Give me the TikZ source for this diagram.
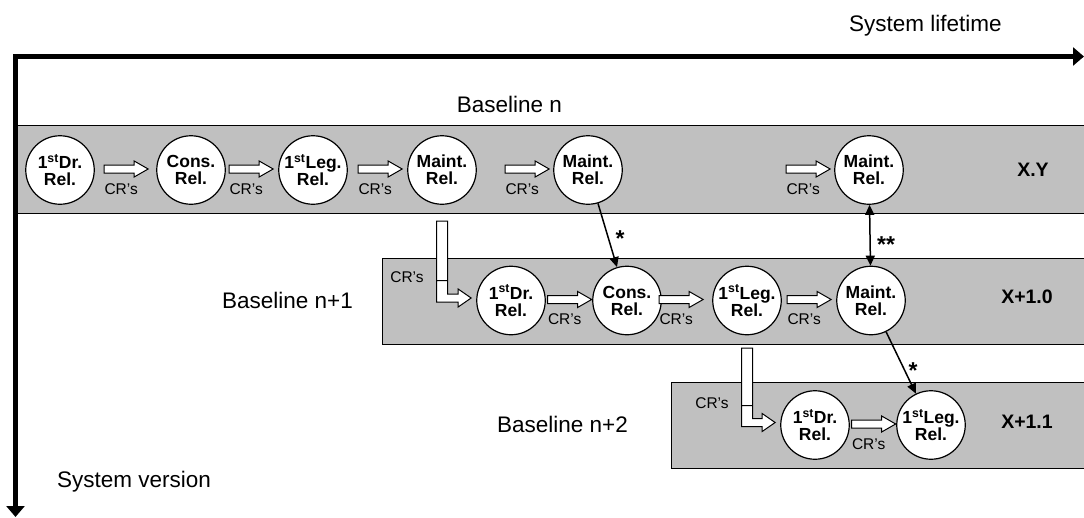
\documentclass[tikz,border=0pt]{standalone}
\usepackage{fontspec}
\setmainfont{Liberation Sans}
\usetikzlibrary{arrows.meta,calc}
\definecolor{bandgray}{RGB}{192,192,192}
\tikzset{
 band/.style={draw=black, line width=1.3pt, fill=bandgray, anchor=north west, inner sep=0pt},
 rel/.style={circle, draw=black, line width=1.2pt, fill=white, minimum size=68.5pt, inner sep=0pt, align=center, font=\fontsize{17.5}{17}\selectfont\bfseries},
 blk/.style={draw=black, line width=1pt, fill=white, line join=miter},
 crlabel/.style={font=\fontsize{15.5}{18}\selectfont, inner sep=0pt},
 biglabel/.style={font=\fontsize{22.5}{27}\selectfont, inner sep=0pt, anchor=base west},
 verlabel/.style={font=\fontsize{19.5}{22}\selectfont\bfseries, inner sep=0pt},
 link/.style={line width=1.5pt, -{Triangle[length=10pt,width=9pt]}},
 starlabel/.style={font=\fontsize{23}{27}\selectfont\bfseries, inner sep=0pt, anchor=base},
 axisline/.style={line width=5pt, line join=miter, {Triangle[length=11pt,width=18pt]}-{Triangle[length=11pt,width=18pt]}},
}
% straight block arrow ending just before a node
\newcommand{\crarrow}[2]{%
 \coordinate (tip) at ($(#1.west)+(-#2,-1)$);
 \draw[blk] (tip) -- ++(-14,-8) -- ++(0,4) -- ++(-30,0) -- ++(0,8) -- ++(30,0) -- ++(0,4) -- cycle;
 \node[crlabel] at ($(tip)+(-27,20)$) {CR’s};}
% bent block arrow from a node in one band to a node in the next
\newcommand{\crbend}[4]{%
 \coordinate (ltip) at ($(#3.west)+(-5,-2.5)$);
 \draw[blk] let \p1=(#1.center), \p2=(#2), \p3=(ltip) in
  ({\x1-5.5pt},\y2) -- ({\x1+5.5pt},\y2) -- ({\x1+5.5pt},{\y3+4pt}) -- ({\x3-13pt},{\y3+4pt})
  -- ({\x3-13pt},{\y3+9pt}) -- (\x3,\y3) -- ({\x3-13pt},{\y3-9pt}) -- ({\x3-13pt},{\y3-4pt})
  -- ({\x1-5.5pt},{\y3-4pt}) -- cycle
  ({\x1-5.5pt},{\y2-#4}) -- ({\x1+5.5pt},{\y2-#4});}
\begin{document}
\begin{tikzpicture}[x=1pt,y=-1pt]
\fill[white] (0,0) rectangle (1084,517);
\useasboundingbox (0,0) rectangle (1084,517);

% bands
\node[band, minimum width=1080pt, minimum height=87.7pt] (b1) at (15,125) {};
\node[band, minimum width=710pt, minimum height=86pt] (b2) at (382,257.5) {};
\node[band, minimum width=420pt, minimum height=86pt] (b3) at (670.7,381.7) {};

% axes
\coordinate (xend) at (1084,56.5);
\coordinate (orig) at (15.5,56.5);
\coordinate (yend) at (15.5,517);
\draw[axisline] (xend) -- (orig) -- (yend);

% labels
\node[biglabel] (lt) at (849,31.7) {System lifetime};
\node[biglabel] (sv) at (57,487) {System version};
\node[biglabel] (bn) at (456.7,112) {Baseline n};
\node[biglabel] (bn1) at (222,308) {Baseline n+1};
\node[biglabel] (bn2) at (497,432) {Baseline n+2};
\node[verlabel] (v1) at (1033,170) {X.Y};
\node[verlabel] (v2) at (1027,297) {X+1.0};
\node[verlabel] (v3) at (1027,421.7) {X+1.1};

% band 1
\node[rel] (a1) at (60,170) {1\textsuperscript{st}Dr.\\Rel.};
\node[rel] (a2) at (191,170) {Cons.\\Rel.};
\node[rel] (a3) at (313,170) {1\textsuperscript{st}Leg.\\Rel.};
\node[rel] (a4) at (442,170) {Maint.\\Rel.};
\node[rel] (a5) at (588,170) {Maint.\\Rel.};
\node[rel] (a6) at (869,170) {Maint.\\Rel.};
% band 2
\node[rel] (n1) at (511,300.5) {1\textsuperscript{st}Dr.\\Rel.};
\node[rel] (n2) at (627,300.5) {Cons.\\Rel.};
\node[rel] (n3) at (747,300.5) {1\textsuperscript{st}Leg.\\Rel.};
\node[rel] (n4) at (871,300.5) {Maint.\\Rel.};
% band 3
\node[rel] (m1) at (815,425) {1\textsuperscript{st}Dr.\\Rel.};
\node[rel] (m2) at (931,425) {1\textsuperscript{st}Leg.\\Rel.};

% CR block arrows
\crarrow{a2}{8}
\crarrow{a3}{5}
\crarrow{a4}{5}
\crarrow{a5}{4}
\crarrow{a6}{4}
\crarrow{n2}{0.5}
\crarrow{n3}{9}
\crarrow{n4}{5}
\crarrow{m2}{0.5}

% bent arrows
\crbend{a4}{$(b1.south -| a4)+(0,7)$}{n1}{59.6pt}
\node[crlabel] (cr1) at (407,277) {CR’s};
\crbend{n3}{$(b2.south -| n3)+(0,3.3)$}{m1}{57.5pt}
\node[crlabel] (cr2) at (712,403) {CR’s};

% merge arrows
\draw[link] (a5) -- (n2);
\node[starlabel] (s1) at (620,246.7) {*};
\draw[link, {Triangle[length=10pt,width=9pt]}-{Triangle[length=10pt,width=9pt]}] (a6) -- (n4);
\node[starlabel] (s2) at (886,252.7) {**};
\draw[link] (n4) -- (m2);
\node[starlabel] (s3) at (913,378) {*};
\end{tikzpicture}
\end{document}
